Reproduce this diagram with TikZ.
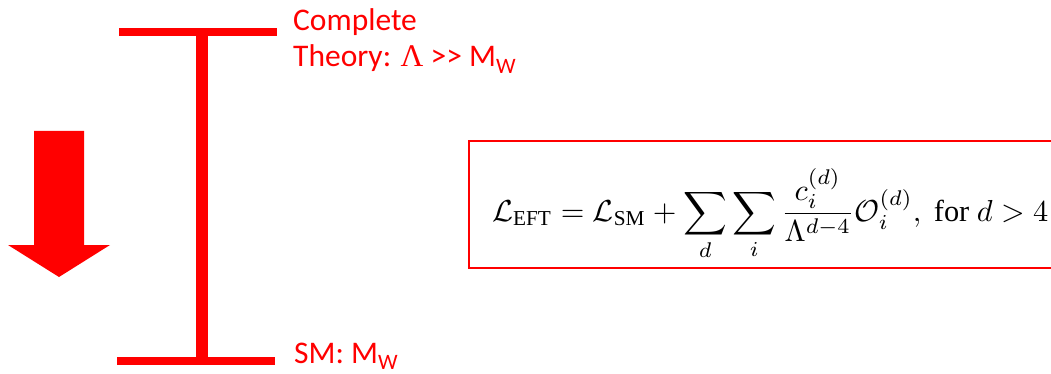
\documentclass[tikz,border=0pt]{standalone}
\usepackage{graphicx}
\usepackage{fontspec}
\setmainfont{Liberation Serif}
\newfontfamily\calib{Carlito}
\newfontfamily\greekserif{Liberation Serif}
\definecolor{pured}{RGB}{255,0,0}
\tikzset{
  bar/.style={draw=pured, line width=8pt},
  stem/.style={draw=pured, line width=12pt},
  lbl/.style={anchor=base west, inner sep=0pt, text=pured, font=\calib\fontsize{31.5}{36}\selectfont},
  eqbox/.style={draw=pured, line width=2pt},
}
\newcommand{\subW}{\raisebox{-0.22em}{\fontsize{22}{22}\selectfont W}}
\begin{document}
\begin{tikzpicture}[x=1pt,y=-1pt]
\useasboundingbox (0,0) rectangle (1051,374);
\coordinate (tl) at (119,32);
\coordinate (tr) at (277,32);
\coordinate (bl) at (117,360.5);
\coordinate (br) at (275,360.5);
\coordinate (tm) at (201.5,36);
\coordinate (bm) at (201.5,357);
\draw[bar] (tl) -- (tr);
\draw[bar] (bl) -- (br);
\draw[stem] (tm) -- (bm);
% arrow
\fill[pured] (34,131) -- (84,131) -- (84,245) -- (110,245) -- (59,277) -- (8,245) -- (34,245) -- cycle;
% labels
\node[lbl] (c1) at (293,31) {Complete};
\node[lbl] (c2) at (293,67) {Theory: {\greekserif Λ} >> M\subW};
\node[lbl] (sm) at (294,363) {SM: M\subW};
% equation box
\draw[eqbox] (469,141) rectangle (1070,268);
\node[anchor=base west, inner sep=0pt] (eq) at (492,221)
  {\resizebox{556pt}{!}{$\displaystyle \mathcal{L}_{\mathrm{EFT}} = \mathcal{L}_{\mathrm{SM}} + \sum_{d}\sum_{i}\frac{c_i^{(d)}}{\Lambda^{d-4}}\mathcal{O}_i^{(d)},\ \mathrm{for}\ d > 4$}};
\end{tikzpicture}
\end{document}
